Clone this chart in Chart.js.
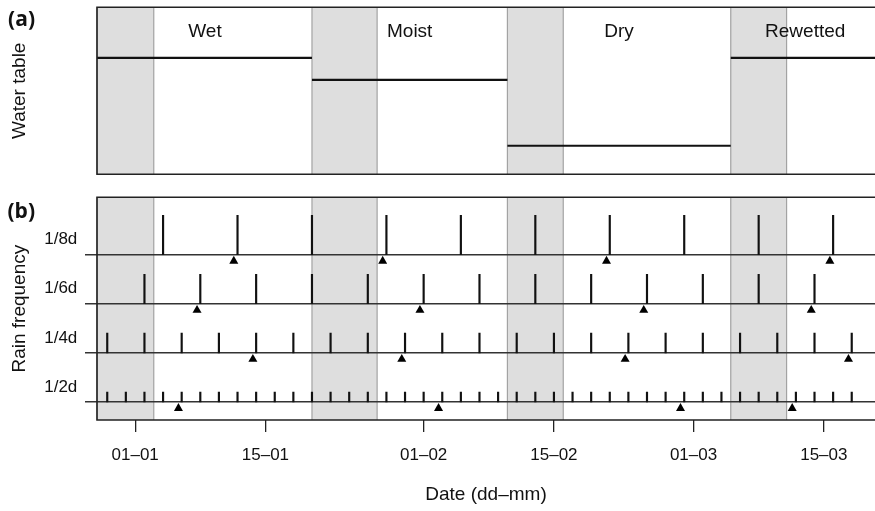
<!DOCTYPE html>
<html>
<head>
<meta charset="utf-8">
<script src="https://cdn.jsdelivr.net/npm/chart.js@4/dist/chart.umd.min.js"></script>
<style>
  html, body { margin: 0; padding: 0; background: #fff; overflow: hidden; }
  #wrap { position: relative; width: 875px; height: 511px; }
  canvas { position: absolute; left: 0; }
  #ca { top: 0; }
  #cb { top: 180px; }
</style>
</head>
<body>
<div id="wrap">
  <canvas id="ca" width="875" height="180"></canvas>
  <canvas id="cb" width="875" height="331"></canvas>
</div>
<script>
// ---------------- data ----------------
const phases      = ['Wet', 'Moist', 'Dry', 'Rewetted'];
const phaseStart  = [-4.1, 19, 40, 64];      // days from 01-01
const phaseEnd    = [19, 40, 64, 80];
const shadeEnd    = [2, 26, 46, 70];         // end of shaded (transition) part of each phase
const waterTable  = [-5, -10, -25, -5];      // water table level (cm)
const phaseLabelY = 1;

const rainRows    = ['1/8d', '1/6d', '1/4d', '1/2d'];
const rowLevel    = [4, 3, 2, 1];
const rainHeight  = [0.8, 0.6, 0.4, 0.2];

const rain8d = [3, 11, 19, 27, 35, 43, 51, 59, 67, 75];
const rain6d = [1, 7, 13, 19, 25, 31, 37, 43, 49, 55, 61, 67, 73];
const rain4d = [-3, 1, 5, 9, 13, 17, 21, 25, 29, 33, 37, 41, 45, 49, 53, 57, 61, 65, 69, 73, 77];
const rain2d = [-3, -1, 1, 3, 5, 7, 9, 11, 13, 15, 17, 19, 21, 23, 25, 27, 29, 31, 33, 35, 37, 39,
                41, 43, 45, 47, 49, 51, 53, 55, 57, 59, 61, 63, 65, 67, 69, 71, 73, 75, 77];

const sample8d = [10.6, 26.6, 50.65, 74.65];
const sample6d = [6.65, 30.6, 54.65, 72.65];
const sample4d = [12.65, 28.65, 52.65, 76.65];
const sample2d = [4.65, 32.6, 58.6, 70.6];

const tickDays   = [0, 14, 31, 45, 60, 74];
const tickLabels = ['01\u201301', '15\u201301', '01\u201302', '15\u201302', '01\u201303', '15\u201303'];

const xMin = -4.1, xMax = 79.5;

// ---------------- styles ----------------
const FONT = '"Liberation Sans", Arial, Helvetica, sans-serif';
const TXT = '#111';
const SHADE = '#dedede';
const SHADE_EDGE = '#a3a3a3';
const FRAME = '#222';

Chart.defaults.font.family = FONT;
Chart.defaults.color = TXT;
Chart.defaults.animation = false;

const shadePlugin = {
  id: 'shade',
  beforeDraw(chart) {
    const {ctx, chartArea: a, scales: {x}} = chart;
    ctx.save();
    for (let i = 0; i < phases.length; i++) {
      const x0 = x.getPixelForValue(Math.max(phaseStart[i], xMin));
      const x1 = x.getPixelForValue(shadeEnd[i]);
      ctx.fillStyle = SHADE;
      ctx.fillRect(x0, a.top, x1 - x0, a.bottom - a.top);
      ctx.strokeStyle = SHADE_EDGE;
      ctx.lineWidth = 1.2;
      ctx.beginPath();
      ctx.moveTo(x0, a.top); ctx.lineTo(x0, a.bottom);
      ctx.moveTo(x1, a.top); ctx.lineTo(x1, a.bottom);
      ctx.stroke();
    }
    ctx.restore();
  },
  afterDraw(chart) {
    const {ctx, chartArea: a} = chart;
    ctx.save();
    ctx.strokeStyle = FRAME;
    ctx.lineWidth = 1.6;
    ctx.beginPath();
    ctx.moveTo(a.right + 2, a.top);
    ctx.lineTo(a.left, a.top);
    ctx.lineTo(a.left, a.bottom);
    ctx.lineTo(a.right + 2, a.bottom);
    ctx.stroke();
    // panel letter
    ctx.fillStyle = TXT;
    ctx.font = 'bold 21px "Open Sans", "Noto Sans", sans-serif';
    ctx.textAlign = 'right';
    ctx.textBaseline = 'middle';
    const o = chart.options.plugins.shade;
    ctx.fillText(o.letter, o.lx, o.ly);
    ctx.restore();
  }
};

const phaseLabelPlugin = {
  id: 'phaseLabels',
  afterDatasetsDraw(chart) {
    const {ctx, scales: {x, y}} = chart;
    ctx.save();
    ctx.fillStyle = TXT;
    ctx.font = '19px ' + FONT;
    ctx.textAlign = 'center';
    ctx.textBaseline = 'middle';
    for (let i = 0; i < phases.length; i++) {
      const mid = (phaseStart[i] === xMin ? -4 : phaseStart[i]) / 2 + phaseEnd[i] / 2;
      ctx.fillText(phases[i], x.getPixelForValue(mid), y.getPixelForValue(phaseLabelY));
    }
    ctx.restore();
  }
};

// ---------------- panel (a) ----------------
new Chart(document.getElementById('ca'), {
  type: 'line',
  data: {
    datasets: phases.map((p, i) => ({
      label: p,
      data: [{x: phaseStart[i], y: waterTable[i]}, {x: phaseEnd[i], y: waterTable[i]}],
      borderColor: '#111',
      borderWidth: 2.2,
      pointRadius: 0,
      tension: 0
    }))
  },
  options: {
    responsive: false,
    devicePixelRatio: 1,
    layout: {autoPadding: false, padding: {top: 7.3, bottom: 5.7, left: 0, right: 0}},
    plugins: {legend: {display: false}, tooltip: {enabled: false},
              shade: {letter: '(a)', lx: 35, ly: 20.5}},
    scales: {
      x: {type: 'linear', min: xMin, max: xMax, display: false},
      y: {
        type: 'linear', min: -31.5, max: 6.5,
        afterFit(s) { s.width = 97; },
        grid: {display: false}, border: {display: false},
        ticks: {display: false},
        title: {display: true, text: 'Water table', font: {size: 19, family: FONT}, color: TXT,
                padding: {top: 8, bottom: 0}}
      }
    }
  },
  plugins: [shadePlugin, phaseLabelPlugin]
});

// ---------------- panel (b) ----------------
const rainSets = [rain8d, rain6d, rain4d, rain2d];
const sampleSets = [sample8d, sample6d, sample4d, sample2d];
const TRI_OFFSET = 0.13;

const dsB = [];
rainSets.forEach((arr, r) => {
  dsB.push({
    type: 'bar',
    label: 'rain ' + rainRows[r],
    data: arr.map(d => ({x: d, y: [rowLevel[r], rowLevel[r] + rainHeight[r]]})),
    backgroundColor: '#111',
    borderWidth: 0,
    barThickness: 1.5,
    grouped: false
  });
});
sampleSets.forEach((arr, r) => {
  dsB.push({
    type: 'scatter',
    label: 'sampling ' + rainRows[r],
    data: arr.map(d => ({x: d, y: rowLevel[r] - TRI_OFFSET})),
    pointStyle: 'triangle',
    pointRadius: 5.2,
    backgroundColor: '#000',
    borderWidth: 0
  });
});

new Chart(document.getElementById('cb'), {
  type: 'bar',
  data: {datasets: dsB},
  options: {
    responsive: false,
    devicePixelRatio: 1,
    layout: {autoPadding: false, padding: {top: 17.3, bottom: 0, left: 0, right: 0}},
    plugins: {legend: {display: false}, tooltip: {enabled: false},
              shade: {letter: '(b)', lx: 35, ly: 31.7}},
    scales: {
      x: {
        type: 'linear', min: xMin, max: xMax, offset: false,
        afterFit(s) { s.height = 91; s.paddingLeft = 0; s.paddingRight = 0; },
        afterBuildTicks(s) { s.ticks = tickDays.map(v => ({value: v})); },
        grid: {display: true, offset: false, drawOnChartArea: false, drawTicks: true, tickLength: 12,
               color: FRAME, lineWidth: 1.3},
        border: {display: false},
        ticks: {
          padding: 13, maxRotation: 0, autoSkip: false,
          font: {size: 17, family: FONT}, color: TXT,
          callback: (v) => tickLabels[tickDays.indexOf(v)]
        },
        title: {display: true, text: 'Date (dd\u2013mm)', font: {size: 19, family: FONT}, color: TXT,
                padding: {top: 0, bottom: 4.6}}
      },
      y: {
        type: 'linear', min: 0.632, max: 5.168,
        afterFit(s) { s.width = 97; s.paddingTop = 0; s.paddingBottom = 0; },
        afterBuildTicks(s) { s.ticks = rowLevel.slice().reverse().map(v => ({value: v})); },
        grid: {display: true, drawOnChartArea: true, drawTicks: true, tickLength: 12,
               color: '#333', lineWidth: 1.5},
        border: {display: false},
        ticks: {
          padding: 7.7, labelOffset: -15, autoSkip: false,
          font: {size: 17, family: FONT}, color: TXT,
          callback: (v) => rainRows[rowLevel.indexOf(v)]
        },
        title: {display: true, text: 'Rain frequency', font: {size: 19, family: FONT}, color: TXT,
                padding: {top: 8.5, bottom: 0}}
      }
    }
  },
  plugins: [shadePlugin]
});
</script>
</body>
</html>
